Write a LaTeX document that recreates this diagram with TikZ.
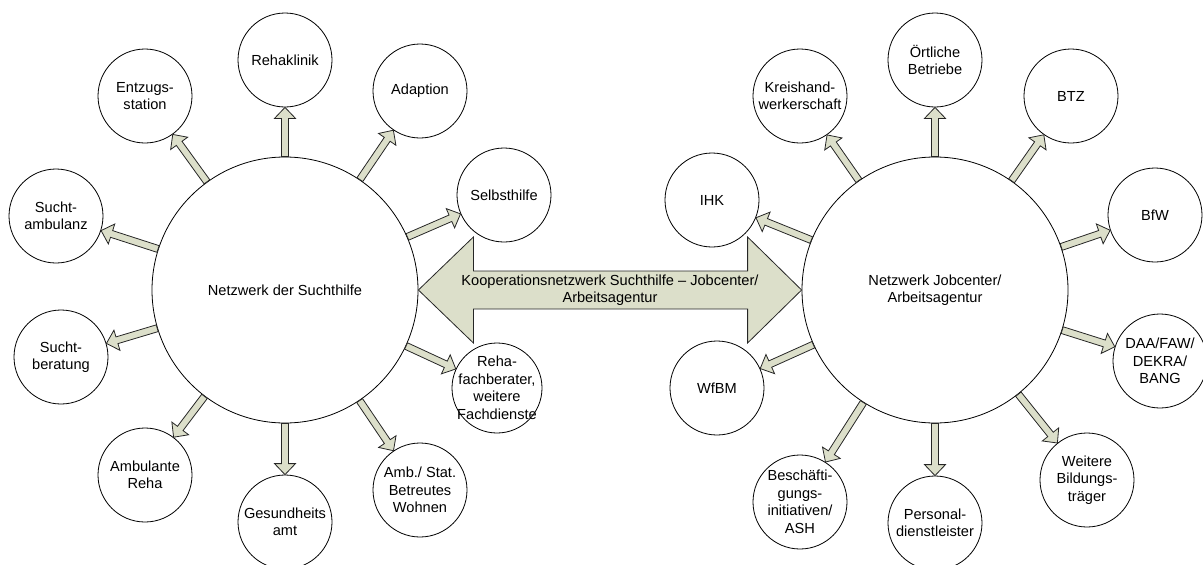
\documentclass[tikz,border=0pt]{standalone}
\usepackage{fontspec}
\setmainfont{Liberation Sans}
\usetikzlibrary{calc}

\definecolor{sage}{RGB}{220,223,202}
\tikzset{
  ring/.style={circle,draw,fill=white,minimum size=94pt,inner sep=0pt,align=center},
  hub/.style={ring,minimum size=266pt},
  blockarrow/.style={draw=black!85,fill=sage,line join=miter}
}
% block arrow from the border of #1 to the border of #2
\newcommand\linkarrow[2]{%
  \path (#1) -- (#2) coordinate[pos=0] (la) coordinate[pos=1] (lb);
  \coordinate (lh) at ($(lb)!11pt!(la)$);
  \draw[blockarrow] ($(la)!3.5pt!90:(lb)$) -- ($(lh)!3.5pt!90:(lb)$)
    -- ($(lh)!10.5pt!90:(lb)$) -- (lb) -- ($(lh)!10.5pt!-90:(lb)$)
    -- ($(lh)!3.5pt!-90:(lb)$) -- ($(la)!3.5pt!-90:(lb)$) -- cycle;
}

\begin{document}
\begin{tikzpicture}[x=1pt,y=-1pt,line width=0.8pt,
    font=\fontsize{14.6}{17.5}\selectfont]
  \useasboundingbox (0,0) rectangle (1203,565);

  \node[hub] (sucht) at (285,290) {Netzwerk der Suchthilfe};
  \node[hub] (job) at (935,290) {Netzwerk Jobcenter/\\Arbeitsagentur};

  % cooperation arrow between both networks
  \draw[blockarrow] (sucht.east) -- ++(55,-53) -- ++(0,34)
    -- ($(job.west)+(-54,-19)$) -- ++(0,-34) -- (job.west) -- ++(-54,53)
    -- ++(0,-34) -- ($(sucht.east)+(55,19)$) -- ++(0,34) -- cycle;
  \node[align=center] (koop) at ($(sucht.east)!0.5!(job.west)$)
    {Kooperationsnetzwerk Suchthilfe -- Jobcenter/\\Arbeitsagentur};

  % Suchthilfe
  \node[ring] (entzug) at (145,96) {Entzugs-\\station};
  \node[ring] (rehaklinik) at (285,60) {Rehaklinik};
  \node[ring] (adaption) at (420,91) {Adaption};
  \node[ring] (selbst) at (504,195) {Selbsthilfe};
  \node[ring] (ambulanz) at (56,216) {Sucht-\\ambulanz};
  \node[ring] (beratung) at (61,357) {Sucht-\\beratung};
  \node[ring] (ambreha) at (145,475) {Ambulante\\Reha};
  \node[ring] (gesund) at (285,522) {Gesundheits\\amt};
  \node[ring] (wohnen) at (420,490) {Amb./ Stat.\\Betreutes\\Wohnen};
  \node[ring,minimum size=90pt,inner sep=-8pt] (fach) at (497,388)
    {Reha-\\fachberater,\\weitere\\Fachdienste};

  % Jobcenter
  \node[ring] (ihk) at (712,200) {IHK};
  \node[ring] (kreis) at (800,96) {Kreishand-\\werkerschaft};
  \node[ring] (betriebe) at (935,60) {Örtliche\\Betriebe};
  \node[ring] (btz) at (1071,96) {BTZ};
  \node[ring] (bfw) at (1155,215) {BfW};
  \node[ring] (daa) at (1160,361) {DAA/FAW/\\DEKRA/\\BANG};
  \node[ring] (bildung) at (1087,480) {Weitere\\Bildungs-\\träger};
  \node[ring] (personal) at (935,523) {Personal-\\dienstleister};
  \node[ring] (besch) at (800,502) {Beschäfti-\\gungs-\\initiativen/\\ASH};
  \node[ring] (wfbm) at (717,388) {WfBM};

  \foreach \t in {entzug,rehaklinik,adaption,selbst,ambulanz,beratung,
      ambreha,gesund,wohnen,fach}
    {\linkarrow{sucht}{\t}}
  \foreach \t in {ihk,kreis,betriebe,btz,bfw,daa,bildung,personal,besch,wfbm}
    {\linkarrow{job}{\t}}
\end{tikzpicture}
\end{document}
